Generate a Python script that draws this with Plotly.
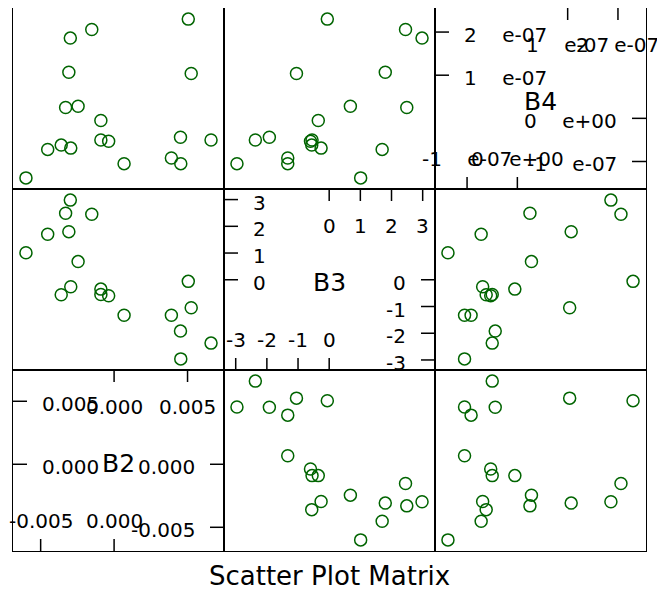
import plotly.graph_objects as go

# ---- data ----
var_names = ["B2", "B3", "B4"]
B2 = [5.05e-3, -1.52e-3, -2.98e-3, -3.08e-3, 5.25e-3, -3.30e-3, -2.45e-3, -0.90e-3, 4.52e-3, 6.60e-3,
      -0.90e-3, -0.37e-3, -4.52e-3, -3.60e-3, -2.95e-3, 0.68e-3, 3.90e-3, 4.54e-3, -6.00e-3]
B3 = [-0.06, 2.45, 2.98, 1.80, -1.05, 2.49, 0.68, -0.35, -1.92, -2.37,
      -0.55, -0.60, 1.70, -0.56, -0.26, -1.33, -1.33, -2.96, 1.01]
B4 = [2.30e-7, 2.06e-7, 1.86e-7, 1.07e-7, 1.04e-7, 0.25e-7, 0.28e-7, -0.05e-7, -0.44e-7, -0.50e-7,
      -0.50e-7, -0.53e-7, -0.72e-7, -0.62e-7, -0.69e-7, -1.05e-7, -0.92e-7, -1.05e-7, -1.38e-7]

# diagonal-panel tick values and labels (lower half / upper half)
lower_ticks = {"B2": [-0.005, 0.0], "B3": [-3, -2, -1, 0], "B4": [-1e-7, 0.0]}
lower_labels = {"B2": ["-0.005", "0.000"], "B3": ["-3", "-2", "-1", "0"], "B4": ["-1 e-07", "0 e+00"]}
upper_ticks = {"B2": [0.0, 0.005], "B3": [0, 1, 2, 3], "B4": [1e-7, 2e-7]}
upper_labels = {"B2": ["0.000", "0.005"], "B3": ["0", "1", "2", "3"], "B4": ["1 e-07", "2 e-07"]}

title_text = "Scatter Plot Matrix"

data = {"B2": B2, "B3": B3, "B4": B4}

def padded_range(vals, pad=0.07):
    lo, hi = min(vals), max(vals)
    span = hi - lo
    return [lo - pad * span, hi + pad * span]

ranges = {k: padded_range(v) for k, v in data.items()}

FONT = "DejaVu Sans"
TICK_SIZE = 20
GREEN = "#006400"
NB = "\u00a0" * 4

fig = go.Figure()
layout = {}
shapes = []
annotations = []

for r in range(3):
    for c in range(3):
        k = r * 3 + c + 1
        xv = var_names[c]
        yv = var_names[2 - r]
        xs = "" if k == 1 else str(k)
        layout["xaxis" + xs] = dict(domain=[c / 3, (c + 1) / 3], anchor="y" + xs, range=ranges[xv],
                                    showline=True, mirror=True, linecolor="black", linewidth=1,
                                    showgrid=False, zeroline=False, showticklabels=False, ticks="")
        layout["yaxis" + xs] = dict(domain=[1 - (r + 1) / 3, 1 - r / 3], anchor="x" + xs, range=ranges[yv],
                                    showline=True, mirror=True, linecolor="black", linewidth=1,
                                    showgrid=False, zeroline=False, showticklabels=False, ticks="")
        xref = "x" + xs
        yref = "y" + xs
        if xv != yv:
            fig.add_trace(go.Scatter(x=data[xv], y=data[yv], xaxis=xref, yaxis=yref, mode="markers",
                                     marker=dict(symbol="circle-open", size=12, color=GREEN,
                                                 line=dict(width=1.5, color=GREEN)),
                                     showlegend=False, hoverinfo="skip"))
        else:
            fig.add_trace(go.Scatter(x=[], y=[], xaxis=xref, yaxis=yref, mode="markers",
                                     showlegend=False, hoverinfo="skip"))
            v = xv
            lw = dict(color="black", width=1.5)
            tf = dict(family=FONT, size=TICK_SIZE, color="black")
            # bottom ticks + right ticks (lower half)
            for t, lab in zip(lower_ticks[v], lower_labels[v]):
                shapes.append(dict(type="line", xref=xref, yref=yref + " domain", x0=t, x1=t,
                                   ysizemode="pixel", yanchor=0, y0=0, y1=12, line=lw))
                annotations.append(dict(text=lab.replace(" ", NB), xref=xref, yref=yref + " domain",
                                        x=t, y=0, yanchor="middle", xanchor="center", yshift=30,
                                        showarrow=False, font=tf))
                shapes.append(dict(type="line", xref=xref + " domain", yref=yref, y0=t, y1=t,
                                   xsizemode="pixel", xanchor=1, x0=0, x1=-14, line=lw))
                annotations.append(dict(text=lab.replace(" ", NB), xref=xref + " domain", yref=yref,
                                        x=1, y=t, xanchor="right", yanchor="middle", xshift=-27, yshift=-3,
                                        showarrow=False, font=tf))
            # top ticks + left ticks (upper half)
            for t, lab in zip(upper_ticks[v], upper_labels[v]):
                shapes.append(dict(type="line", xref=xref, yref=yref + " domain", x0=t, x1=t,
                                   ysizemode="pixel", yanchor=1, y0=0, y1=-12, line=lw))
                annotations.append(dict(text=lab.replace(" ", NB), xref=xref, yref=yref + " domain",
                                        x=t, y=1, yanchor="middle", xanchor="center", yshift=-37,
                                        showarrow=False, font=tf))
                shapes.append(dict(type="line", xref=xref + " domain", yref=yref, y0=t, y1=t,
                                   xsizemode="pixel", xanchor=0, x0=0, x1=14, line=lw))
                annotations.append(dict(text=lab.replace(" ", NB), xref=xref + " domain", yref=yref,
                                        x=0, y=t, xanchor="left", yanchor="middle", xshift=27, yshift=-3,
                                        showarrow=False, font=tf))
            annotations.append(dict(text=v, xref=xref + " domain", yref=yref + " domain", x=0.5, y=0.5,
                                    xanchor="center", yanchor="middle", yshift=-3, showarrow=False,
                                    font=dict(family=FONT, size=25, color="black")))

annotations.append(dict(text=title_text, xref="paper", yref="paper", x=0.5, y=0, xanchor="center",
                        yanchor="middle", yshift=-25, showarrow=False,
                        font=dict(family=FONT, size=26, color="black")))

fig.update_layout(**layout)
# the page body adds an 8px offset, so margins are reduced accordingly
fig.update_layout(width=665, height=590, margin=dict(l=5, r=27, t=0, b=47),
                  paper_bgcolor="white", plot_bgcolor="white",
                  shapes=shapes, annotations=annotations, showlegend=False)

fig.write_html("out.html")
